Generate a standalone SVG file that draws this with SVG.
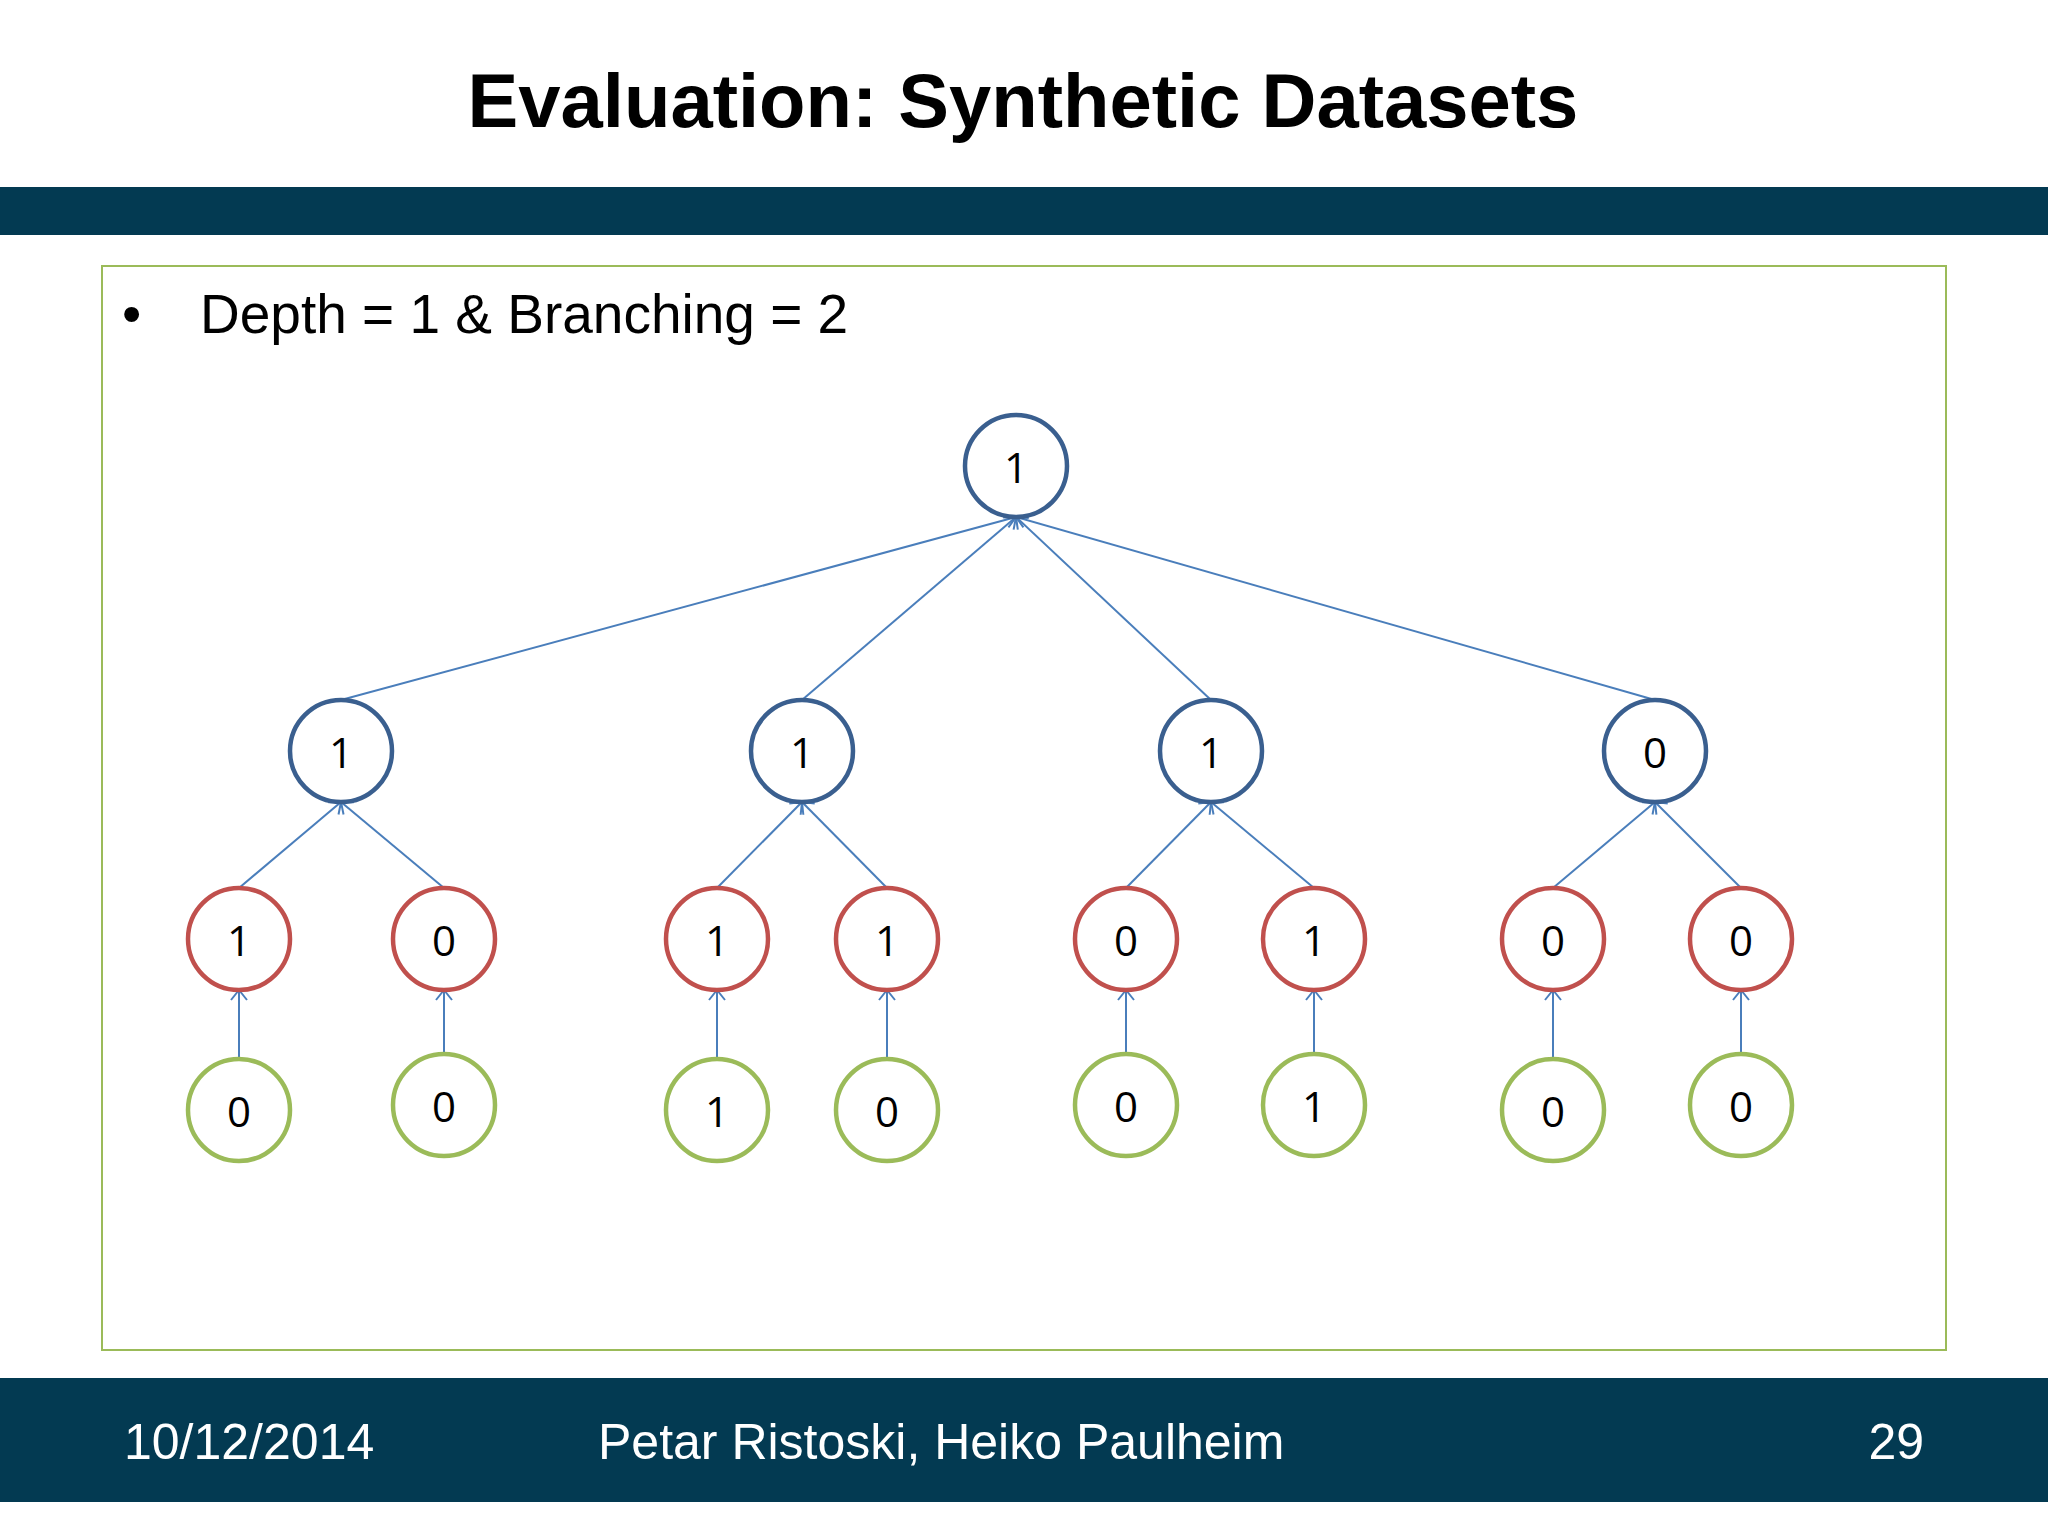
<svg xmlns="http://www.w3.org/2000/svg" width="2048" height="1536" viewBox="0 0 2048 1536">
<style>
.t{font-family:"Liberation Sans",Arial,sans-serif}
.n circle{fill:#fff;stroke-width:4.5}
.b circle{stroke:#3a5f8f}.r circle{stroke:#c0504d}.g circle{stroke:#9bbb59}
.n text{font-family:"Open Sans","Liberation Sans",sans-serif;font-size:42px;text-anchor:middle;dominant-baseline:central;fill:#000}
#edges line{stroke:#4a7ebb;stroke-width:2;marker-end:url(#a)}
</style>
<defs><marker id="a" markerUnits="userSpaceOnUse" markerWidth="24" markerHeight="24" refX="12" refY="12" orient="auto" viewBox="0 0 24 24"><path d="M2,4 L12,12 L2,20" fill="none" stroke="#4a7ebb" stroke-width="2"/></marker></defs>
<rect width="2048" height="1536" fill="#fff"/>
<text class="t" x="1023" y="127" font-size="76" font-weight="bold" text-anchor="middle">Evaluation: Synthetic Datasets</text>
<rect x="0" y="187" width="2048" height="48" fill="#033a52"/>
<rect x="102" y="266" width="1844" height="1084" fill="none" stroke="#9bbb59" stroke-width="2"/>
<text class="t" x="122" y="333" font-size="55">•</text>
<text class="t" x="200" y="333" font-size="55">Depth = 1 &amp; Branching = 2</text>
<rect x="0" y="1378" width="2048" height="124" fill="#033a52"/>
<g class="t" font-size="50" fill="#fff"><text x="124" y="1459">10/12/2014</text><text x="598" y="1459">Petar Ristoski, Heiko Paulheim</text><text x="1924" y="1459" text-anchor="end">29</text></g>
<g id="edges">
<line x1="341" y1="700" x2="1016" y2="517"/><line x1="802" y1="700" x2="1016" y2="517"/><line x1="1211" y1="700" x2="1016" y2="517"/><line x1="1655" y1="700" x2="1016" y2="517"/>
<line x1="239" y1="888" x2="341" y2="802"/><line x1="444" y1="888" x2="341" y2="802"/>
<line x1="717" y1="888" x2="802" y2="802"/><line x1="887" y1="888" x2="802" y2="802"/>
<line x1="1126" y1="888" x2="1211" y2="802"/><line x1="1314" y1="888" x2="1211" y2="802"/>
<line x1="1553" y1="888" x2="1655" y2="802"/><line x1="1741" y1="888" x2="1655" y2="802"/>
<line x1="239" y1="1057" x2="239" y2="990"/><line x1="444" y1="1053" x2="444" y2="990"/><line x1="717" y1="1057" x2="717" y2="990"/><line x1="887" y1="1057" x2="887" y2="990"/><line x1="1126" y1="1053" x2="1126" y2="990"/><line x1="1314" y1="1053" x2="1314" y2="990"/><line x1="1553" y1="1057" x2="1553" y2="990"/><line x1="1741" y1="1053" x2="1741" y2="990"/>
</g>
<g id="root" class="n b"><circle cx="1016" cy="466" r="51"/><text x="1016" y="466">1</text></g>
<g id="l1a" class="n b"><circle cx="341" cy="751" r="51"/><text x="341" y="751">1</text></g>
<g id="l1b" class="n b"><circle cx="802" cy="751" r="51"/><text x="802" y="751">1</text></g>
<g id="l1c" class="n b"><circle cx="1211" cy="751" r="51"/><text x="1211" y="751">1</text></g>
<g id="l1d" class="n b"><circle cx="1655" cy="751" r="51"/><text x="1655" y="751">0</text></g>
<g id="l2a" class="n r"><circle cx="239" cy="939" r="51"/><text x="239" y="939">1</text></g>
<g id="l2b" class="n r"><circle cx="444" cy="939" r="51"/><text x="444" y="939">0</text></g>
<g id="l2c" class="n r"><circle cx="717" cy="939" r="51"/><text x="717" y="939">1</text></g>
<g id="l2d" class="n r"><circle cx="887" cy="939" r="51"/><text x="887" y="939">1</text></g>
<g id="l2e" class="n r"><circle cx="1126" cy="939" r="51"/><text x="1126" y="939">0</text></g>
<g id="l2f" class="n r"><circle cx="1314" cy="939" r="51"/><text x="1314" y="939">1</text></g>
<g id="l2g" class="n r"><circle cx="1553" cy="939" r="51"/><text x="1553" y="939">0</text></g>
<g id="l2h" class="n r"><circle cx="1741" cy="939" r="51"/><text x="1741" y="939">0</text></g>
<g id="l3a" class="n g"><circle cx="239" cy="1110" r="51"/><text x="239" y="1110">0</text></g>
<g id="l3b" class="n g"><circle cx="444" cy="1105" r="51"/><text x="444" y="1105">0</text></g>
<g id="l3c" class="n g"><circle cx="717" cy="1110" r="51"/><text x="717" y="1110">1</text></g>
<g id="l3d" class="n g"><circle cx="887" cy="1110" r="51"/><text x="887" y="1110">0</text></g>
<g id="l3e" class="n g"><circle cx="1126" cy="1105" r="51"/><text x="1126" y="1105">0</text></g>
<g id="l3f" class="n g"><circle cx="1314" cy="1105" r="51"/><text x="1314" y="1105">1</text></g>
<g id="l3g" class="n g"><circle cx="1553" cy="1110" r="51"/><text x="1553" y="1110">0</text></g>
<g id="l3h" class="n g"><circle cx="1741" cy="1105" r="51"/><text x="1741" y="1105">0</text></g>
</svg>
